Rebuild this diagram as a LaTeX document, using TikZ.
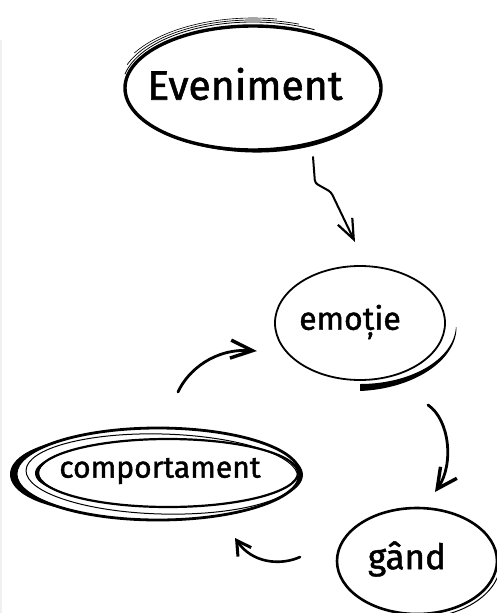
\documentclass[tikz,border=0pt]{standalone}
\usepackage{fontspec}
\setmainfont{Fira Sans}
\newfontfamily\hand{Fira Sans}[FakeBold=1.4]
\usetikzlibrary{shapes.geometric,arrows.meta,calc}
% tapered stroke outside an elliptic arc, linear width change
\newcommand\taperarc[8]{%
 \fill plot[domain=0:1,samples=60,variable=\s]
  ({#1+(#3+(#7)+((#8)-(#7))*\s)*cos((#5)+((#6)-(#5))*\s)},{#2+(#4+(#7)+((#8)-(#7))*\s)*sin((#5)+((#6)-(#5))*\s)})
  -- plot[domain=0:1,samples=60,variable=\s]
  ({#1+#3*cos((#6)+((#5)-(#6))*\s)},{#2+#4*sin((#6)+((#5)-(#6))*\s)}) -- cycle;}
% crescent stroke outside an elliptic arc, sine profile
\newcommand\bulgearc[7]{%
 \fill plot[domain=0:1,samples=60,variable=\s]
  ({#1+(#3+(#7)*sin(180*\s))*cos((#5)+((#6)-(#5))*\s)},{#2+(#4+(#7)*sin(180*\s))*sin((#5)+((#6)-(#5))*\s)})
  -- plot[domain=0:1,samples=60,variable=\s]
  ({#1+#3*cos((#6)+((#5)-(#6))*\s)},{#2+#4*sin((#6)+((#5)-(#6))*\s)}) -- cycle;}
\newcommand\earc[6][]{\draw[#1] ($(#2)+(#3:#5 and #6)$) arc[start angle=#3,end angle=#4,x radius=#5,y radius=#6];}
\tikzset{
  ring/.style={ellipse, draw, inner sep=0pt},
  lbl/.style={font=\hand\fontsize{#1}{#1}\selectfont, inner sep=0pt},
  conn/.style={line width=#1, line cap=round, line join=round},
}
\begin{document}
\begin{tikzpicture}[x=1pt,y=1pt]
\useasboundingbox (0,0) rectangle (497,-613);
\clip (0,0) rectangle (497,-613);
\fill[white] (0,0) rectangle (497,-613);
\fill[black!6] (0,-40) rectangle (1.5,-613);

% ---- Eveniment
\node[ring, line width=3.4pt, minimum width=256pt, minimum height=124pt] (ev) at (253,-88) {};
\earc[line width=0.8pt]{ev.center}{62}{168}{131}{66}
\earc[line width=0.7pt]{ev.center}{70}{160}{134}{68}
\earc[line width=0.6pt]{ev.center}{80}{150}{137}{70}
\bulgearc{253}{-88}{129}{63}{-120}{-10}{2}
\node[lbl=41] (evt) at (245,-84) {Eveniment};

% ---- emoție
\node[ring, line width=1.8pt, minimum width=170pt, minimum height=114pt] (emo) at (360,-323) {};
\taperarc{360}{-325}{96}{59}{-2}{-90}{0.5}{7}
\node[lbl=32] (emot) at (350,-322) {emoție};

% ---- gând
\node[ring, line width=2.6pt, minimum width=160pt, minimum height=106pt] (gand) at (417,-561) {};
\earc[line width=1pt]{gand.center}{-15}{-100}{84}{57}
\node[lbl=35] (gandt) at (407,-559) {gând};

% ---- comportament
\node[ring, line width=2.8pt, minimum width=284pt, minimum height=92pt] (comp) at (158,-474) {};
\draw[line width=2.2pt] (168,-473) ellipse[x radius=130, y radius=34];
\draw[line width=1pt, rotate around={-1.5:(162,-474)}] (162,-474) ellipse[x radius=136, y radius=40];
\bulgearc{158}{-474}{141}{45}{130}{235}{7}
\bulgearc{168}{-473}{129}{33}{150}{215}{4}
\bulgearc{158}{-474}{141}{45}{-35}{25}{4}
\node[lbl=30] (compt) at (160,-471) {comportament};

% ---- connectors
\coordinate (l0) at (313,-157);
\coordinate (l1) at (315,-183);
\coordinate (l2) at (331,-192);
\coordinate (l3) at (355,-242);
\draw[conn=2pt, rounded corners=3pt, -{Straight Barb[length=20pt,width=16pt,line width=2.2pt]}] (l0) -- (l1) -- (l2) -- (l3);

\coordinate (a2s) at (428,-405);
\coordinate (a2e) at (435,-492);
\draw[conn=2.8pt, -{Straight Barb[length=20pt,width=20pt,line width=3.4pt]}] (a2s) .. controls (450,-420) and (454,-465) .. (a2e);

\coordinate (a3s) at (300,-557);
\coordinate (a3e) at (235,-538);
\draw[conn=2.6pt, -{Straight Barb[length=14pt,width=16pt,line width=3pt]}] (a3s) .. controls (280,-566) and (252,-563) .. (a3e);

\coordinate (a4s) at (178,-392);
\coordinate (a4e) at (257,-351);
\draw[conn=2.8pt, -{Straight Barb[length=22pt,width=18pt,line width=3.4pt]}] (a4s) .. controls (188,-370) and (215,-348) .. (a4e);
\end{tikzpicture}
\end{document}
